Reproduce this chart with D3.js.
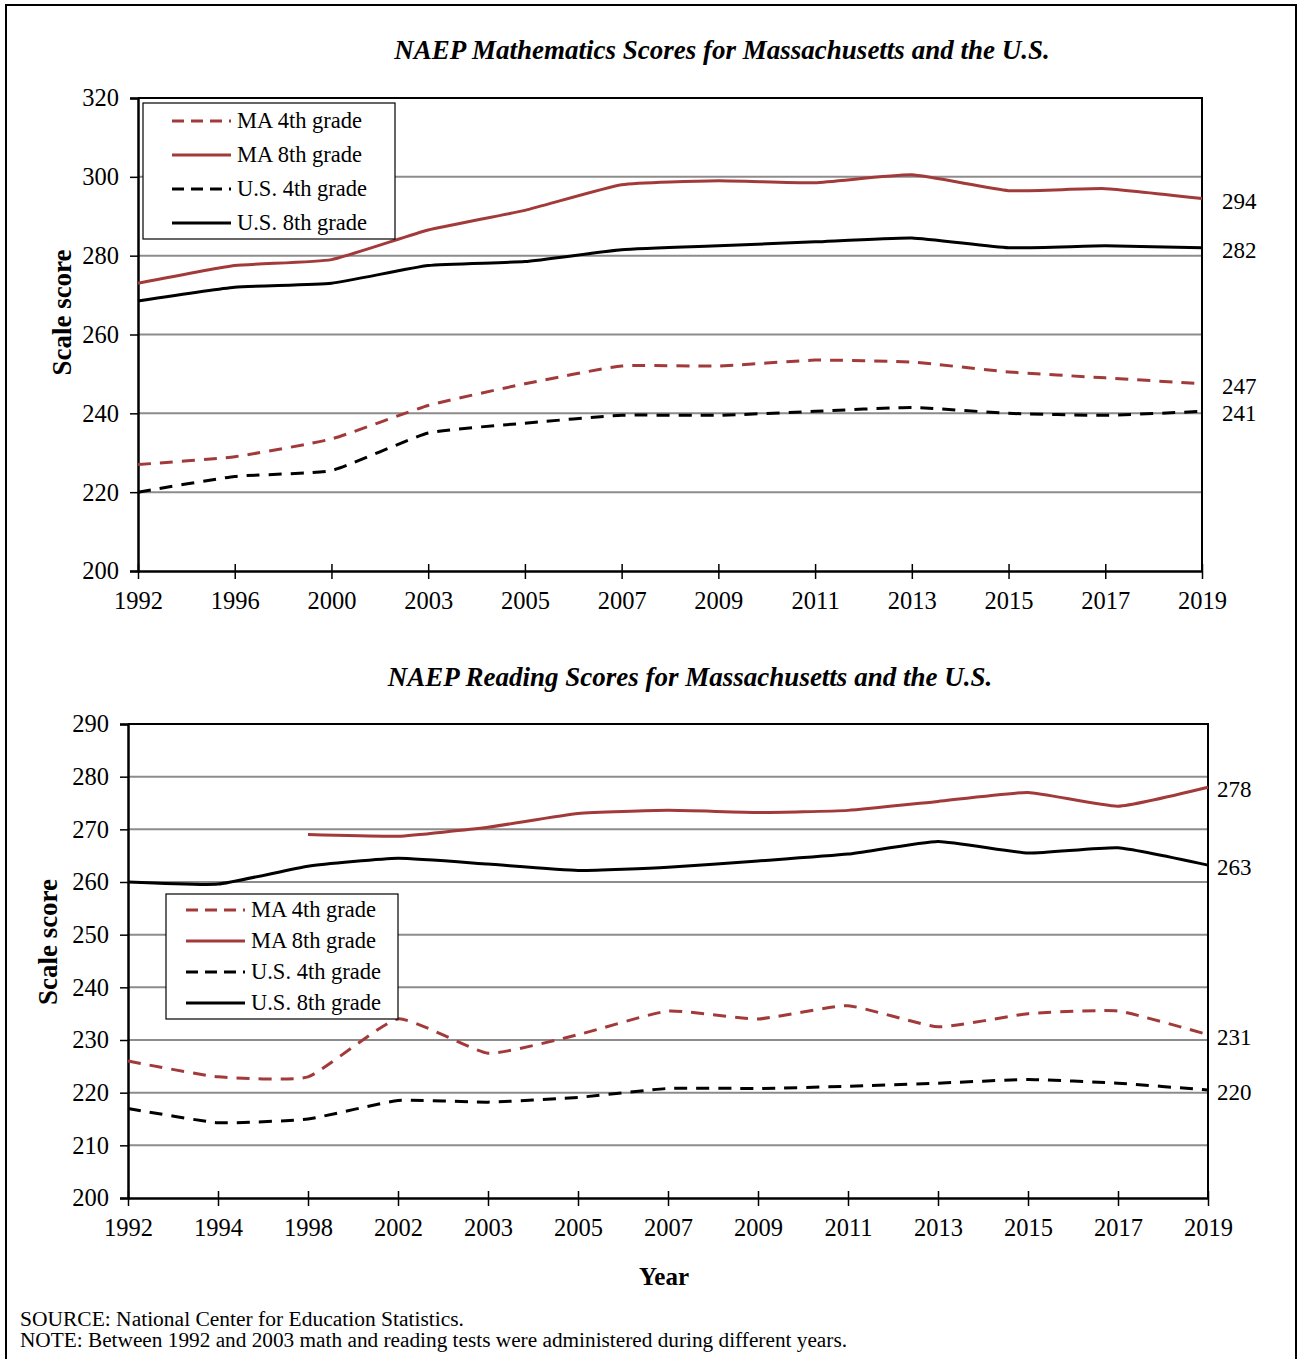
<!DOCTYPE html>
<html>
<head>
<meta charset="utf-8">
<script src="https://cdn.jsdelivr.net/npm/d3@7"></script>
<style>
  body { margin: 0; background: #fff; }
  svg { font-family: "Liberation Serif", "Times New Roman", serif; }
</style>
</head>
<body>
<svg id="chart" width="1299" height="1359"></svg>
<script>
// ---- data ----
const mathYears = ['1992','1996','2000','2003','2005','2007','2009','2011','2013','2015','2017','2019'];
const mathMA4 = [227, 229, 233.5, 242, 247.5, 252, 252, 253.5, 253, 250.5, 249, 247.5];
const mathMA8 = [273, 277.5, 279, 286.5, 291.5, 298, 299, 298.5, 300.5, 296.5, 297, 294.5];
const mathUS4 = [220, 224, 225.5, 235, 237.5, 239.5, 239.5, 240.5, 241.5, 240, 239.5, 240.5];
const mathUS8 = [268.5, 272, 273, 277.5, 278.5, 281.5, 282.5, 283.5, 284.5, 282, 282.5, 282];
const mathEndLabels = ['247', '294', '241', '282'];
const mathTicks = [200, 220, 240, 260, 280, 300, 320];

const readYears = ['1992','1994','1998','2002','2003','2005','2007','2009','2011','2013','2015','2017','2019'];
const readMA4 = [226, 223, 223, 234, 227.5, 231, 235.5, 234, 236.5, 232.5, 235, 235.5, 231];
const readMA8 = [null, null, 269, 268.7, 270.4, 273, 273.6, 273.2, 273.6, 275.3, 277, 274.4, 278];
const readUS4 = [217, 214.3, 215, 218.5, 218.2, 219.1, 220.8, 220.8, 221.2, 221.8, 222.5, 221.8, 220.5];
const readUS8 = [260, 259.6, 263, 264.5, 263.4, 262.2, 262.8, 264, 265.3, 267.7, 265.5, 266.5, 263.2];
const readEndLabels = ['231', '278', '220', '263'];
const readTicks = [200, 210, 220, 230, 240, 250, 260, 270, 280, 290];

const seriesNames = ['MA 4th grade', 'MA 8th grade', 'U.S. 4th grade', 'U.S. 8th grade'];

const svg = d3.select('#chart');
const red = '#a23a3a';
const seriesStyle = [
  {color: red, dash: '13,9'},
  {color: red, dash: null},
  {color: '#000', dash: '13,9'},
  {color: '#000', dash: null}
];

// outer frame
svg.append('path')
  .attr('d', 'M6,1359 V5 H1296 V1359')
  .attr('fill', 'none')
  .attr('stroke', '#000')
  .attr('stroke-width', 2);

function drawPanel(cfg) {
  const g = svg.append('g');

  const x = d3.scalePoint().domain(cfg.years).range([cfg.left, cfg.right]);
  const y = d3.scaleLinear().domain([cfg.ticks[0], cfg.ticks[cfg.ticks.length - 1]])
    .range([cfg.bottom, cfg.top]);

  // title
  g.append('text')
    .attr('x', cfg.titleX).attr('y', cfg.titleY)
    .attr('text-anchor', 'middle')
    .attr('font-size', 27).attr('font-weight', 'bold').attr('font-style', 'italic')
    .text(cfg.title);

  // gridlines
  g.selectAll('.grid').data(cfg.ticks.slice(1, -1)).enter()
    .append('line')
      .attr('x1', cfg.left).attr('x2', cfg.right)
      .attr('y1', d => y(d)).attr('y2', d => y(d))
      .attr('stroke', '#8c8c8c').attr('stroke-width', 2);

  // frame top and right
  g.append('path')
    .attr('d', `M${cfg.left},${cfg.top} H${cfg.right} V${cfg.bottom}`)
    .attr('fill', 'none').attr('stroke', '#000').attr('stroke-width', 2);

  // y axis
  const yAxis = g.append('g')
    .attr('transform', `translate(${cfg.left},0)`)
    .call(d3.axisLeft(y).tickValues(cfg.ticks).tickSize(8).tickPadding(11));
  yAxis.select('.domain').attr('stroke-width', 2.5);
  yAxis.selectAll('.tick line').attr('stroke-width', 1.5);
  yAxis.selectAll('.tick text').attr('font-size', 24.5).attr('font-family', 'Liberation Serif').attr('fill', '#000');

  // x axis
  const xAxis = g.append('g')
    .attr('transform', `translate(0,${cfg.bottom})`)
    .call(d3.axisBottom(x).tickSizeInner(8).tickSizeOuter(0).tickPadding(13));
  xAxis.select('.domain').attr('stroke-width', 2.5);
  xAxis.selectAll('.tick line').attr('y1', -7).attr('stroke-width', 1.5);
  xAxis.selectAll('.tick text').attr('font-size', 24.5).attr('font-family', 'Liberation Serif').attr('fill', '#000');

  // y label
  g.append('text')
    .attr('transform', `translate(${cfg.yLabelX},${(cfg.top + cfg.bottom) / 2 + cfg.yLabelShift}) rotate(-90)`)
    .attr('text-anchor', 'middle')
    .attr('font-size', 27).attr('font-weight', 'bold')
    .text('Scale score');

  // lines
  const line = d3.line()
    .defined(d => d != null)
    .x((d, i) => x(cfg.years[i]))
    .y(d => y(d))
    .curve(d3.curveCardinal.tension(0.55));

  cfg.series.forEach(function(vals, k) {
    const st = seriesStyle[k];
    g.append('path')
      .attr('d', line(vals))
      .attr('fill', 'none')
      .attr('stroke', st.color)
      .attr('stroke-width', 3)
      .attr('stroke-dasharray', st.dash);

    // end label
    g.append('text')
      .attr('x', cfg.right + cfg.labelPad)
      .attr('y', y(vals[vals.length - 1]) + 10)
      .attr('font-size', 23)
      .text(cfg.endLabels[k]);
  });

  // legend
  const lg = g.append('g').attr('transform', `translate(${cfg.legend.x},${cfg.legend.y})`);
  lg.append('rect')
    .attr('width', cfg.legend.w).attr('height', cfg.legend.h)
    .attr('fill', '#fff').attr('stroke', '#000').attr('stroke-width', 1.2);
  seriesNames.forEach(function(name, k) {
    const st = seriesStyle[k];
    const yy = cfg.legend.first + k * cfg.legend.step;
    lg.append('line')
      .attr('x1', cfg.legend.lx1).attr('x2', cfg.legend.lx2)
      .attr('y1', yy).attr('y2', yy)
      .attr('stroke', st.color).attr('stroke-width', 3)
      .attr('stroke-dasharray', st.dash ? '12,7' : null);
    lg.append('text')
      .attr('x', cfg.legend.lx2 + 6).attr('y', yy + 7)
      .attr('font-size', 22.5)
      .text(name);
  });
}

drawPanel({
  title: 'NAEP Mathematics Scores for Massachusetts and the U.S.',
  titleX: 722, titleY: 59,
  years: mathYears, ticks: mathTicks,
  series: [mathMA4, mathMA8, mathUS4, mathUS8],
  endLabels: mathEndLabels,
  left: 138, right: 1202, top: 98, bottom: 571,
  yLabelX: 71, yLabelShift: -22, labelPad: 20,
  legend: {x: 143, y: 103, w: 252, h: 136, first: 18, step: 34, lx1: 29, lx2: 88}
});

drawPanel({
  title: 'NAEP Reading Scores for Massachusetts and the U.S.',
  titleX: 690, titleY: 686,
  years: readYears, ticks: readTicks,
  series: [readMA4, readMA8, readUS4, readUS8],
  endLabels: readEndLabels,
  left: 128, right: 1208, top: 724, bottom: 1198,
  yLabelX: 57, yLabelShift: -19, labelPad: 9,
  legend: {x: 166, y: 894, w: 232, h: 125, first: 16, step: 31, lx1: 20, lx2: 79}
});

svg.append('text')
  .attr('x', 664).attr('y', 1285)
  .attr('text-anchor', 'middle')
  .attr('font-size', 25).attr('font-weight', 'bold')
  .text('Year');

svg.append('text')
  .attr('x', 20).attr('y', 1326)
  .attr('font-size', 20)
  .attr('textLength', 444).attr('lengthAdjust', 'spacingAndGlyphs')
  .text('SOURCE:  National Center for Education Statistics.');
svg.append('text')
  .attr('x', 20).attr('y', 1347)
  .attr('font-size', 20)
  .attr('textLength', 827).attr('lengthAdjust', 'spacingAndGlyphs')
  .text('NOTE: Between 1992 and 2003 math and reading tests were administered during different years.');
</script>
</body>
</html>
